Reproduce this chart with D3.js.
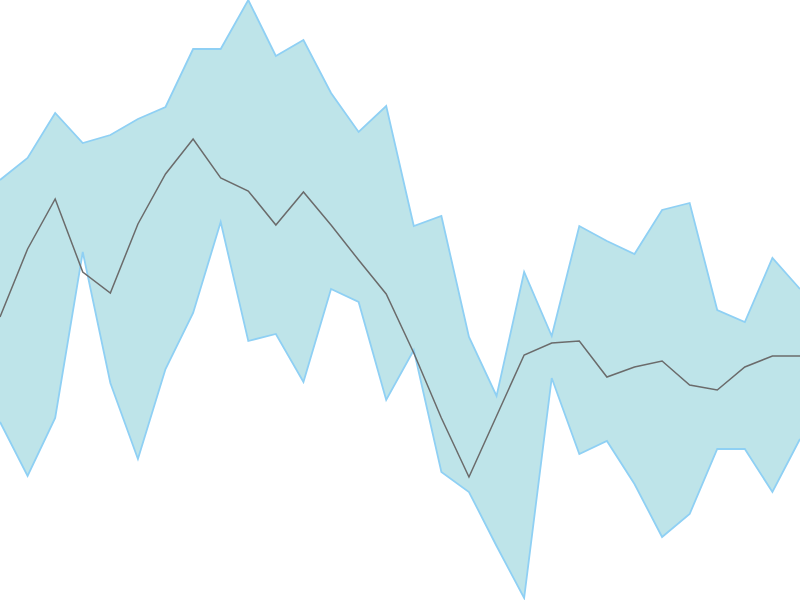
<!DOCTYPE html>
<html>
<head>
<meta charset="utf-8">
<script src="https://cdn.jsdelivr.net/npm/d3@7"></script>
<style>
  body { margin: 0; background: #fff; }
</style>
</head>
<body>
<svg id="viz"></svg>
<script>

// the data (30 periods)
var periods = d3.range(30);
var upper = [420, 442, 487, 457, 465, 481, 493, 551, 551, 600, 544, 560, 507, 468, 494,
             374, 384, 263, 204, 328, 264, 374, 359, 346, 390, 397, 290, 278, 342, 311];
var lower = [178, 124, 182, 348, 217, 141, 231, 287, 378, 259, 266, 218, 311, 298, 200,
             250, 128, 108, 54, 2, 222, 146, 159, 116, 63, 86, 151, 151, 108, 161];
var middle = [283, 351, 401, 328, 307, 376, 426, 461, 422, 409, 375, 408, 375, 340, 306,
              247, 182, 123, 184, 245, 257, 259, 223, 233, 239, 215, 210, 233, 244, 244];

// set up the svg
var w = 800;
var h = 600;
var viz = d3.select("#viz").attr("width", w).attr("height", h);

var x = d3.scaleLinear().domain([0, periods.length - 1]).range([0, w]);
var y = d3.scaleLinear().domain([0, 600]).range([h, 0]);

// band between lower and upper
var area = d3.area()
  .x(function(d) { return x(d); })
  .y0(function(d) { return y(lower[d]); })
  .y1(function(d) { return y(upper[d]); });

viz.append("path")
  .datum(periods)
  .attr("d", area)
  .attr("fill", "#bee4e9");

// band edges
var upperLine = d3.line()
  .x(function(d) { return x(d); })
  .y(function(d) { return y(upper[d]); });
var lowerLine = d3.line()
  .x(function(d) { return x(d); })
  .y(function(d) { return y(lower[d]); });

[upperLine, lowerLine].forEach(function(fn) {
  viz.append("path")
    .datum(periods)
    .attr("d", fn)
    .attr("fill", "none")
    .attr("stroke", "#8fd0f4")
    .attr("stroke-width", 1.8);
});

// the middle line
var midLine = d3.line()
  .x(function(d) { return x(d); })
  .y(function(d) { return y(middle[d]); });

viz.append("path")
  .datum(periods)
  .attr("d", midLine)
  .attr("fill", "none")
  .attr("stroke", "#6b6b6b")
  .attr("stroke-width", 1.5);

</script>
</body>
</html>
